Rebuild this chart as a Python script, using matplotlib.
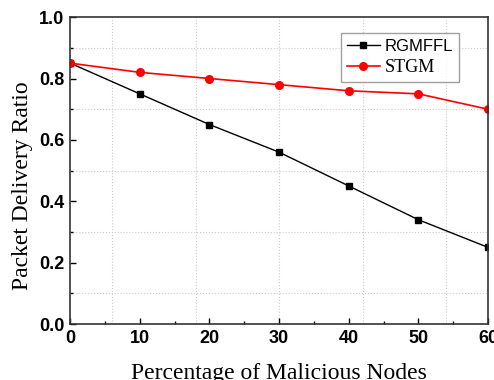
import matplotlib
matplotlib.use('Agg')
import matplotlib.pyplot as plt
from matplotlib.ticker import MultipleLocator, FormatStrFormatter

x = [0, 10, 20, 30, 40, 50, 60]
rgmffl = [0.85, 0.75, 0.65, 0.56, 0.45, 0.34, 0.25]
stgm = [0.85, 0.82, 0.80, 0.78, 0.76, 0.75, 0.70]

fig = plt.figure(figsize=(4.94, 3.8), dpi=100)
ax = fig.add_axes([0.142, 0.147, 0.846, 0.808])

ax.plot(x, rgmffl, color='black', marker='s', markersize=5, linewidth=1.0, label='RGMFFL')
ax.plot(x, stgm, color='red', marker='o', markersize=5.5, linewidth=1.2, label='STGM')

ax.set_xlim(0, 60)
ax.set_ylim(0, 1.0)
ax.xaxis.set_major_locator(MultipleLocator(10))
ax.xaxis.set_minor_locator(MultipleLocator(5))
ax.yaxis.set_major_locator(MultipleLocator(0.2))
ax.yaxis.set_minor_locator(MultipleLocator(0.1))
ax.tick_params(which='both', direction='in', top=False, right=False)
ax.tick_params(which='major', length=4, width=1, pad=4)
ax.tick_params(which='minor', length=2.5, width=1)

# dotted grid, not on the ticks
for gx in [6, 18, 30, 42, 54]:
    ax.axvline(gx, color='#cccccc', linestyle=':', linewidth=0.8, zorder=0)
for gy in [0.1, 0.3, 0.5, 0.7, 0.9]:
    ax.axhline(gy, color='#cccccc', linestyle=':', linewidth=0.8, zorder=0)

ax.yaxis.set_major_formatter(FormatStrFormatter('%.1f'))
for lab in ax.get_xticklabels() + ax.get_yticklabels():
    lab.set_fontfamily('Liberation Sans')
    lab.set_fontweight('bold')
    lab.set_fontsize(13)

for sp in ax.spines.values():
    sp.set_linewidth(1.2)
    sp.set_color('#333333')

ax.set_xlabel('Percentage of Malicious Nodes', fontfamily='Liberation Serif', fontsize=17, labelpad=12)
ax.set_ylabel('Packet Delivery Ratio', fontfamily='Liberation Serif', fontsize=17)
ax.yaxis.set_label_coords(-0.088, 0.451)

leg = ax.legend(loc='upper right', bbox_to_anchor=(0.931, 0.948), borderaxespad=0,
                fancybox=False, edgecolor='#888888', handlelength=2.0, handletextpad=0.3,
                borderpad=0.35, labelspacing=0.3,
                prop={'family': 'Liberation Sans', 'size': 12})
leg.get_frame().set_linewidth(1.0)
leg.get_texts()[1].set_fontfamily('Liberation Serif')
leg.get_texts()[1].set_fontsize(13)

fig.savefig('out.png', dpi=100)
